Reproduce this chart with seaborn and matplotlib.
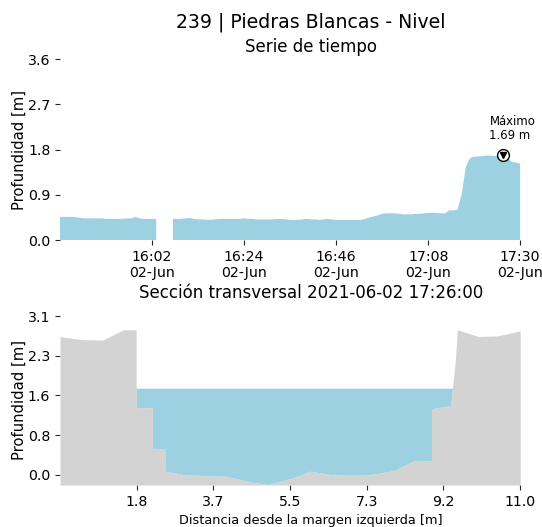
import numpy as np
import pandas as pd
import seaborn as sns
import matplotlib
matplotlib.use("Agg")
import matplotlib.pyplot as plt
import matplotlib.dates as mdates
from matplotlib.ticker import FormatStrFormatter

# --- serie de tiempo (nivel cada minuto, 15:40 - 17:30) ---
inicio = "2021-06-02 15:40"
nivel = [
    0.46, 0.46, 0.46, 0.46, 0.45, 0.44, 0.43, 0.43, 0.43, 0.43,
    0.43, 0.42, 0.42, 0.42, 0.42, 0.42, 0.43, 0.43, 0.46, 0.43,
    0.42, 0.42, 0.42, 0.42, np.nan, np.nan, np.nan, 0.42, 0.42, 0.42,
    0.43, 0.44, 0.42, 0.41, 0.41, 0.40, 0.40, 0.41, 0.42, 0.42,
    0.42, 0.42, 0.42, 0.42, 0.43, 0.42, 0.42, 0.41, 0.41, 0.41,
    0.41, 0.41, 0.42, 0.42, 0.41, 0.40, 0.40, 0.40, 0.41, 0.42,
    0.41, 0.41, 0.40, 0.41, 0.42, 0.41, 0.40, 0.40, 0.40, 0.40,
    0.40, 0.40, 0.40, 0.42, 0.45, 0.47, 0.49, 0.52, 0.53, 0.53,
    0.53, 0.52, 0.51, 0.51, 0.51, 0.52, 0.52, 0.53, 0.54, 0.54,
    0.54, 0.53, 0.53, 0.59, 0.59, 0.60, 0.90, 1.45, 1.63, 1.66,
    1.66, 1.67, 1.68, 1.68, 1.67, 1.67, 1.69, 1.64, 1.55, 1.54,
    1.52,
]
tiempo = pd.date_range(inicio, periods=len(nivel), freq="min")
serie = pd.Series(nivel, index=tiempo)

# --- seccion transversal ---
distancia = [0.0, 0.5, 1.02, 1.51, 1.82, 1.82, 2.21, 2.21, 2.52, 2.52,
             2.98, 3.97, 4.55, 4.96, 5.54, 5.99, 6.49, 6.98, 7.48, 7.98,
             8.47, 8.88, 8.88, 9.34, 9.45, 9.50, 10.0, 10.45, 11.0]
lecho = [2.70, 2.64, 2.63, 2.83, 2.83, 1.31, 1.31, 0.51, 0.51, 0.07,
         0.0, -0.03, -0.14, -0.19, -0.07, 0.07, 0.0, -0.01, 0.01, 0.08,
         0.28, 0.27, 1.29, 1.35, 2.24, 2.83, 2.70, 2.71, 2.81]
fecha_seccion = "2021-06-02 17:26:00"

azul = "#9dd0e0"
gris = "#d3d3d3"

sns.set_style("ticks")
plt.rcParams["font.family"] = ["DejaVu Sans"]
plt.rcParams["text.color"] = "black"
plt.rcParams["axes.labelcolor"] = "black"
plt.rcParams["xtick.labelcolor"] = "black"
plt.rcParams["ytick.labelcolor"] = "black"

fig = plt.figure(figsize=(5.42, 5.27), dpi=100)
W, H = 542, 527

# ---------- serie de tiempo ----------
ax1 = fig.add_axes([60 / W, (H - 240) / H, 502 / W, 181 / H])
ax1.fill_between(serie.index, 0, serie.values, color=azul, linewidth=0)
ax1.set_ylim(0, 3.6)
t0 = serie.index[0]
t1 = serie.index[-1]
ax1.set_xlim(t0, t1 + pd.Timedelta(minutes=10))
ax1.set_yticks(np.linspace(0, 3.6, 5))
ax1.yaxis.set_major_formatter(FormatStrFormatter("%.1f"))
ax1.set_xticks(pd.date_range(t0, t1, periods=6)[1:])
ax1.xaxis.set_major_formatter(mdates.DateFormatter("%H:%M\n%d-%b"))
ax1.set_ylabel("Profundidad [m]", fontsize=10.6, labelpad=1)
ax1.set_title("Serie de tiempo", fontsize=12, pad=5)
ax1.tick_params(labelsize=10.2)

# maximo
t_max = serie.idxmax()
v_max = serie.max()
ax1.plot([t_max], [v_max], "o", mfc="white", mec="black", ms=8.5, mew=1.0)
ax1.plot([t_max], [v_max], "v", color="black", ms=4.5)
ax1.annotate(f"Máximo\n{v_max:.2f} m", xy=(t_max, v_max), xytext=(-14, 13),
             textcoords="offset pixels", ha="left", va="bottom", fontsize=8.4,
             linespacing=1.1)

# ---------- seccion transversal ----------
ax2 = fig.add_axes([60 / W, (H - 485) / H, 502 / W, 169 / H])
x = np.array(distancia)
z = np.array(lecho)
y_min = -0.2
ax2.fill_between(x, y_min, z, color=gris, linewidth=0)
ax2.fill_between(x, z, v_max, where=z <= v_max, interpolate=True,
                 color=azul, linewidth=0)
ax2.set_xlim(0, 12)
ax2.set_ylim(y_min, 3.1)
ax2.set_xticks(np.linspace(0, 11, 7)[1:])
ax2.set_yticks(np.linspace(0, 3.1, 5))
ax2.xaxis.set_major_formatter(FormatStrFormatter("%.1f"))
ax2.yaxis.set_major_formatter(FormatStrFormatter("%.1f"))
ax2.set_ylabel("Profundidad [m]", fontsize=10.6, labelpad=1)
ax2.set_xlabel("Distancia desde la margen izquierda [m]", fontsize=9.3)
ax2.set_title(f"Sección transversal {fecha_seccion}", fontsize=12, pad=13)
ax2.tick_params(labelsize=10.2)

for ax in (ax1, ax2):
    sns.despine(ax=ax, left=True, bottom=True)

fig.suptitle("239 | Piedras Blancas - Nivel", x=311 / W, y=1 - 27.5 / H,
             va="baseline", fontsize=13.6)

fig.savefig("out.png", dpi=100)
